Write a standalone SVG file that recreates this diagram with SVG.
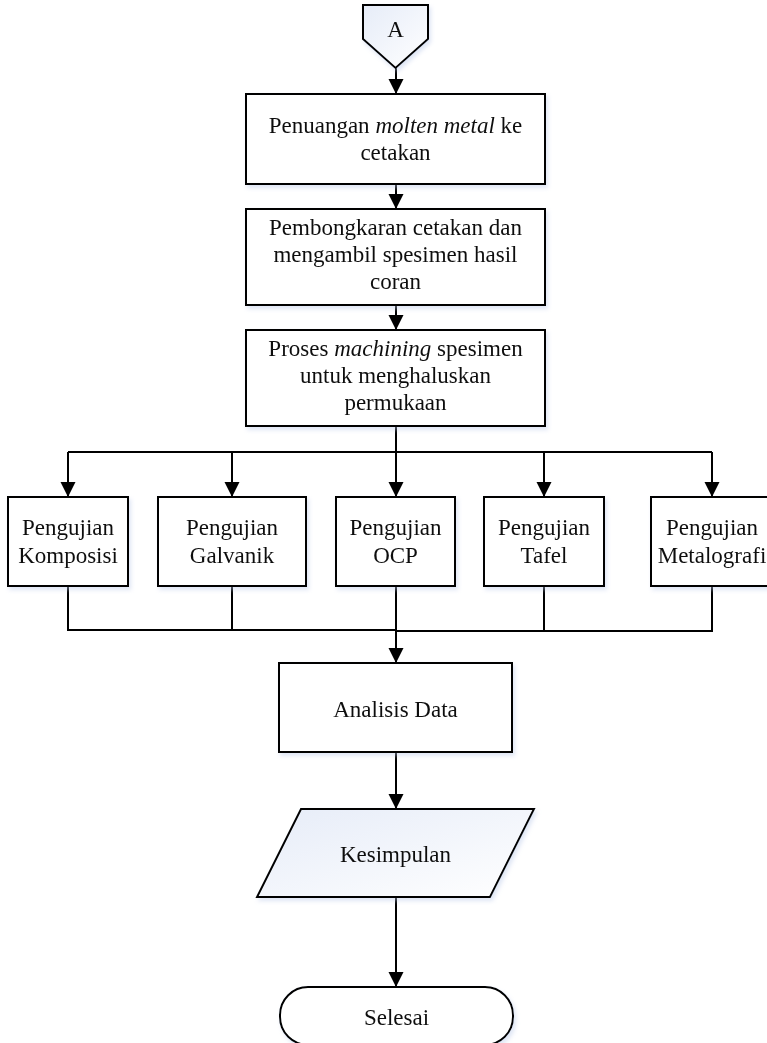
<svg xmlns="http://www.w3.org/2000/svg" width="767" height="1043" viewBox="0 0 767 1043">
  <defs>
    <style>
      .node { fill: #ffffff; stroke: #000000; stroke-width: 2; }
      .soft { fill: url(#paleFill); stroke: #000000; stroke-width: 2; }
      .label { font-family: "Liberation Serif", "Times New Roman", serif; font-size: 23px; fill: #111111; text-anchor: middle; }
      .link { fill: none; stroke: #000000; stroke-width: 2; }
    </style>
    <linearGradient id="paleFill" x1="0" y1="0" x2="1" y2="1">
      <stop offset="0" stop-color="#e6ecf8"/>
      <stop offset="1" stop-color="#ffffff"/>
    </linearGradient>
    <filter id="shade" x="-10%" y="-10%" width="130%" height="130%">
      <feDropShadow dx="2" dy="3" stdDeviation="2" flood-color="#b8c8e8" flood-opacity="0.45"/>
    </filter>
    <marker id="head" markerUnits="userSpaceOnUse" markerWidth="16" markerHeight="16" refX="15" refY="8" orient="auto">
      <path d="M0,0.5 L15,8 L0,15.5 z" fill="#000000"/>
    </marker>
  </defs>
  <rect width="767" height="1043" fill="#ffffff"/>

  <!-- connectors -->
  <g id="connectors" class="link">
    <line x1="396" y1="68" x2="396" y2="94" marker-end="url(#head)"/>
    <line x1="396" y1="184" x2="396" y2="209" marker-end="url(#head)"/>
    <line x1="396" y1="305" x2="396" y2="330" marker-end="url(#head)"/>
    <line x1="396" y1="426" x2="396" y2="452"/>
    <line x1="68" y1="452" x2="712" y2="452"/>
    <line x1="68" y1="452" x2="68" y2="497" marker-end="url(#head)"/>
    <line x1="232" y1="452" x2="232" y2="497" marker-end="url(#head)"/>
    <line x1="396" y1="452" x2="396" y2="497" marker-end="url(#head)"/>
    <line x1="544" y1="452" x2="544" y2="497" marker-end="url(#head)"/>
    <line x1="712" y1="452" x2="712" y2="497" marker-end="url(#head)"/>
    <polyline points="68,586 68,630 396,630"/>
    <line x1="232" y1="586" x2="232" y2="630"/>
    <line x1="396" y1="586" x2="396" y2="663" marker-end="url(#head)"/>
    <line x1="544" y1="586" x2="544" y2="631"/>
    <polyline points="712,586 712,631 396,631"/>
    <line x1="396" y1="752" x2="396" y2="809" marker-end="url(#head)"/>
    <line x1="396" y1="897" x2="396" y2="987" marker-end="url(#head)"/>
  </g>

  <!-- off-page connector A -->
  <g id="node-a" filter="url(#shade)">
    <polygon class="soft" points="363,5 428,5 428,39 395.5,68 363,39"/>
    <text class="label" x="395.5" y="37">A</text>
  </g>

  <g id="node-penuangan" filter="url(#shade)">
    <rect class="node" x="246" y="94" width="299" height="90"/>
    <text class="label" x="395.5" y="133">Penuangan <tspan font-style="italic">molten metal</tspan> ke</text>
    <text class="label" x="395.5" y="160">cetakan</text>
  </g>

  <g id="node-pembongkaran" filter="url(#shade)">
    <rect class="node" x="246" y="209" width="299" height="96"/>
    <text class="label" x="395.5" y="235">Pembongkaran cetakan dan</text>
    <text class="label" x="395.5" y="262">mengambil spesimen hasil</text>
    <text class="label" x="395.5" y="289">coran</text>
  </g>

  <g id="node-machining" filter="url(#shade)">
    <rect class="node" x="246" y="330" width="299" height="96"/>
    <text class="label" x="395.5" y="356">Proses <tspan font-style="italic">machining</tspan> spesimen</text>
    <text class="label" x="395.5" y="383">untuk menghaluskan</text>
    <text class="label" x="395.5" y="410">permukaan</text>
  </g>

  <g id="node-komposisi" filter="url(#shade)">
    <rect class="node" x="8" y="497" width="120" height="89"/>
    <text class="label" x="68" y="535">Pengujian</text>
    <text class="label" x="68" y="563">Komposisi</text>
  </g>

  <g id="node-galvanik" filter="url(#shade)">
    <rect class="node" x="158" y="497" width="148" height="89"/>
    <text class="label" x="232" y="535">Pengujian</text>
    <text class="label" x="232" y="563">Galvanik</text>
  </g>

  <g id="node-ocp" filter="url(#shade)">
    <rect class="node" x="336" y="497" width="119" height="89"/>
    <text class="label" x="395.5" y="535">Pengujian</text>
    <text class="label" x="395.5" y="563">OCP</text>
  </g>

  <g id="node-tafel" filter="url(#shade)">
    <rect class="node" x="484" y="497" width="120" height="89"/>
    <text class="label" x="544" y="535">Pengujian</text>
    <text class="label" x="544" y="563">Tafel</text>
  </g>

  <g id="node-metalografi" filter="url(#shade)">
    <rect class="node" x="651" y="497" width="122" height="89"/>
    <text class="label" x="712" y="535">Pengujian</text>
    <text class="label" x="712" y="563">Metalografi</text>
  </g>

  <g id="node-analisis" filter="url(#shade)">
    <rect class="node" x="279" y="663" width="233" height="89"/>
    <text class="label" x="395.5" y="717">Analisis Data</text>
  </g>

  <g id="node-kesimpulan" filter="url(#shade)">
    <polygon class="soft" points="301,809 534,809 490,897 257,897"/>
    <text class="label" x="395.5" y="862">Kesimpulan</text>
  </g>

  <g id="node-selesai" filter="url(#shade)">
    <rect class="node" x="280" y="987" width="233" height="58" rx="28" ry="28"/>
    <text class="label" x="396.5" y="1025">Selesai</text>
  </g>
</svg>
